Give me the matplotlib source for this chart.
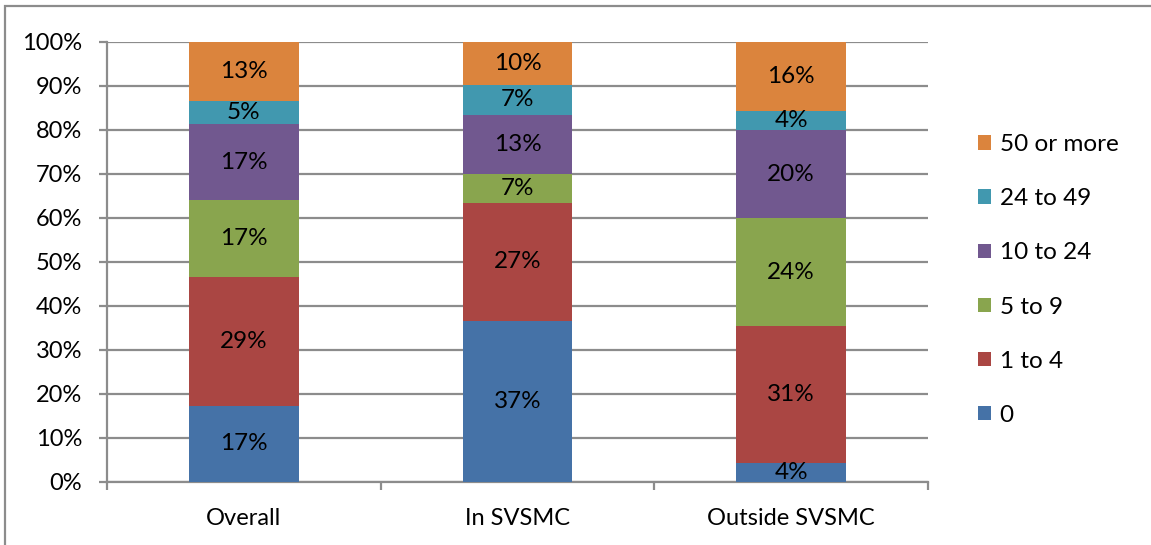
import numpy as np
import matplotlib
matplotlib.use('Agg')
import matplotlib.pyplot as plt
from matplotlib.patches import Rectangle

plt.rcParams['font.family'] = ['Lato', 'DejaVu Sans']

categories = ['Overall', 'In SVSMC', 'Outside SVSMC']
groups = ['0', '1 to 4', '5 to 9', '10 to 24', '24 to 49', '50 or more']
colors = ['#4572A7', '#AA4643', '#89A54E', '#71588F', '#4198AF', '#DB843D']

# share (%) per group, one list per group, order = categories
g0 = [17.3, 36.6, 4.3]
g1_4 = [29.3, 26.8, 31.2]
g5_9 = [17.4, 6.7, 24.4]
g10_24 = [17.4, 13.4, 20.0]
g24_49 = [5.2, 6.7, 4.4]
g50 = [13.4, 9.8, 15.7]
series = [g0, g1_4, g5_9, g10_24, g24_49, g50]

grey = '#8c8c8c'

fig = plt.figure(figsize=(11.51, 5.45), dpi=100)
ax = fig.add_axes([107/1151, 1 - 482/545, (928 - 107)/1151, (482 - 42)/545])

x = np.arange(len(categories))
bottom = np.zeros(len(categories))
for vals, name, col in zip(series, groups, colors):
    b = ax.bar(x, vals, 0.4, bottom=bottom, color=col, label=name, zorder=3)
    ax.bar_label(b, labels=['{:.0f}%'.format(v) for v in vals], label_type='center',
                 fontsize=17.5, color='black', zorder=4)
    bottom += np.array(vals)

ax.set_xlim(-0.5, 2.5)
ax.set_ylim(0, 100)
ax.set_yticks(np.arange(0, 101, 10))
ax.set_yticklabels(['{}%'.format(v) for v in range(0, 101, 10)])
ax.yaxis.grid(True, color=grey, linewidth=1.6, zorder=0)
ax.set_axisbelow(True)

ax.set_xticks([-0.5, 0.5, 1.5, 2.5])
ax.set_xticklabels([])
ax.set_xticks(x, minor=True)
ax.set_xticklabels(categories, minor=True)
ax.tick_params(axis='x', which='major', length=6, width=1.6, color=grey)
ax.tick_params(axis='x', which='minor', length=0, pad=19, labelsize=17)
ax.tick_params(axis='y', length=6, width=1.6, color=grey, pad=12, labelsize=17)

for s in ['top', 'right']:
    ax.spines[s].set_visible(False)
for s in ['left', 'bottom']:
    ax.spines[s].set_color(grey)
    ax.spines[s].set_linewidth(1.6)

handles, labels = ax.get_legend_handles_labels()
fig.legend(handles[::-1], labels[::-1], loc='center left',
           bbox_to_anchor=(956/1151, 1 - 280/545), frameon=False,
           fontsize=17.5, handlelength=0.55, handleheight=0.55,
           handletextpad=0.35, labelspacing=1.36)

# outer chart border
fig.patches.append(Rectangle((5/1151, -0.1), 1.2, 1 - 6/545 + 0.1,
                             transform=fig.transFigure, fill=False,
                             edgecolor=grey, linewidth=1.6))

fig.savefig('out.png', dpi=100)
